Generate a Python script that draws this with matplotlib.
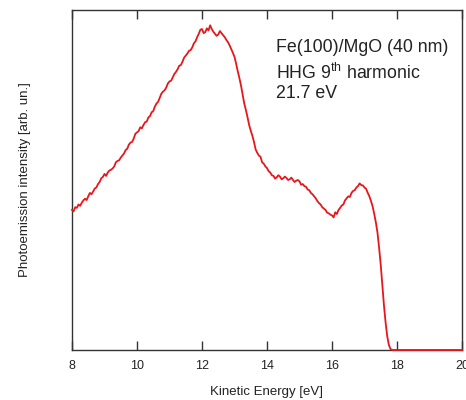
import matplotlib
matplotlib.use("Agg")
import matplotlib.pyplot as plt

# ================= Data =================
energy = [8.00, 8.05, 8.10, 8.15, 8.20, 8.25, 8.30, 8.35, 8.40, 8.45,
          8.50, 8.55, 8.60, 8.65, 8.70, 8.75, 8.80, 8.85, 8.90, 8.95,
          9.00, 9.05, 9.10, 9.15, 9.20, 9.25, 9.30, 9.35, 9.40, 9.45,
          9.50, 9.55, 9.60, 9.65, 9.70, 9.75, 9.80, 9.85, 9.90, 9.95,
          10.00, 10.05, 10.10, 10.15, 10.20, 10.25, 10.30, 10.35, 10.40, 10.45,
          10.50, 10.55, 10.60, 10.65, 10.70, 10.75, 10.80, 10.85, 10.90, 10.95,
          11.00, 11.05, 11.10, 11.15, 11.20, 11.25, 11.30, 11.35, 11.40, 11.45,
          11.50, 11.55, 11.60, 11.65, 11.70, 11.75, 11.80, 11.85, 11.90, 11.95,
          12.00, 12.05, 12.10, 12.15, 12.20, 12.25, 12.30, 12.35, 12.40, 12.45,
          12.50, 12.55, 12.60, 12.65, 12.70, 12.75, 12.80, 12.85, 12.90, 12.95,
          13.00, 13.05, 13.10, 13.15, 13.20, 13.25, 13.30, 13.35, 13.40, 13.45,
          13.50, 13.55, 13.60, 13.65, 13.70, 13.75, 13.80, 13.85, 13.90, 13.95,
          14.00, 14.05, 14.10, 14.15, 14.20, 14.25, 14.30, 14.35, 14.40, 14.45,
          14.50, 14.55, 14.60, 14.65, 14.70, 14.75, 14.80, 14.85, 14.90, 14.95,
          15.00, 15.05, 15.10, 15.15, 15.20, 15.25, 15.30, 15.35, 15.40, 15.45,
          15.50, 15.55, 15.60, 15.65, 15.70, 15.75, 15.80, 15.85, 15.90, 15.95,
          16.00, 16.05, 16.10, 16.15, 16.20, 16.25, 16.30, 16.35, 16.40, 16.45,
          16.50, 16.55, 16.60, 16.65, 16.70, 16.75, 16.80, 16.85, 16.90, 16.95,
          17.00, 17.05, 17.10, 17.15, 17.20, 17.25, 17.30, 17.35, 17.40, 17.45,
          17.50, 17.55, 17.60, 17.65, 17.70, 17.75, 17.80, 17.85,
          18.0, 18.5, 19.0, 19.5, 20.0]
intensity = [0.412, 0.408, 0.420, 0.418, 0.428, 0.424, 0.433, 0.440, 0.445, 0.441,
             0.452, 0.462, 0.458, 0.466, 0.475, 0.478, 0.488, 0.494, 0.505, 0.509,
             0.518, 0.512, 0.522, 0.528, 0.530, 0.534, 0.540, 0.552, 0.556, 0.558,
             0.566, 0.572, 0.578, 0.588, 0.592, 0.604, 0.610, 0.612, 0.622, 0.636,
             0.640, 0.644, 0.655, 0.652, 0.662, 0.670, 0.672, 0.684, 0.688, 0.699,
             0.703, 0.716, 0.725, 0.730, 0.742, 0.754, 0.760, 0.764, 0.772, 0.784,
             0.790, 0.792, 0.802, 0.812, 0.818, 0.826, 0.836, 0.838, 0.848, 0.860,
             0.866, 0.872, 0.880, 0.882, 0.890, 0.902, 0.908, 0.920, 0.930, 0.942,
             0.944, 0.932, 0.935, 0.946, 0.940, 0.955, 0.944, 0.936, 0.930, 0.924,
             0.928, 0.938, 0.932, 0.926, 0.920, 0.912, 0.905, 0.896, 0.885, 0.874,
             0.862, 0.842, 0.820, 0.800, 0.778, 0.752, 0.725, 0.706, 0.685, 0.662,
             0.645, 0.630, 0.612, 0.590, 0.580, 0.572, 0.568, 0.552, 0.548, 0.540,
             0.535, 0.526, 0.522, 0.514, 0.512, 0.504, 0.508, 0.514, 0.510, 0.502,
             0.505, 0.510, 0.506, 0.500, 0.502, 0.507, 0.500, 0.494, 0.498, 0.500,
             0.496, 0.486, 0.488, 0.482, 0.480, 0.472, 0.470, 0.462, 0.458, 0.452,
             0.446, 0.438, 0.432, 0.428, 0.420, 0.416, 0.412, 0.404, 0.402, 0.398,
             0.396, 0.390, 0.405, 0.400, 0.412, 0.418, 0.425, 0.428, 0.440, 0.446,
             0.452, 0.450, 0.462, 0.468, 0.470, 0.478, 0.482, 0.490, 0.485, 0.484,
             0.478, 0.474, 0.462, 0.452, 0.438, 0.422, 0.400, 0.375, 0.345, 0.300,
             0.250, 0.190, 0.130, 0.080, 0.040, 0.015, 0.003, 0.0,
             0.0, 0.0, 0.0, 0.0, 0.0]

x_ticks = [8, 10, 12, 14, 16, 18, 20]
note_lines = ["Fe(100)/MgO (40 nm)",
              "HHG 9$^{\\mathregular{th}}$ harmonic",
              "21.7 eV"]

# ================= Plot =================
plt.rcParams['font.family'] = ['Liberation Sans', 'DejaVu Sans']

W, H = 466, 400
fig = plt.figure(figsize=(W / 100, H / 100), dpi=100)
ax = fig.add_axes([72 / W, 50 / H, 390 / W, 340 / H])

ax.plot(energy, intensity, color="#e8161b", lw=1.3, clip_on=False, zorder=5)

ax.set_xlim(8, 20)
ax.set_ylim(0, 1)
ax.set_xticks(x_ticks)
ax.set_yticks([])
ax.tick_params(axis="x", direction="in", top=True, length=6.5, width=1,
               color="#333333", labelsize=9, pad=7, labelcolor="#222222")

for s in ax.spines.values():
    s.set_color("#333333")
    s.set_linewidth(1.0)

fig.text(267 / W, 1 - 392 / H, "Kinetic Energy [eV]", fontsize=9.5,
         color="#222222", ha="center", va="center")
fig.text(25 / W, 1 - 180 / H, "Photoemission intensity [arb. un.]", fontsize=9.5,
         color="#222222", ha="center", va="center", rotation=90)

for txt, ypx in zip(note_lines, [47, 73, 94]):
    fig.text(276 / W, 1 - ypx / H, txt, fontsize=12.8,
             va="center", ha="left", color="#222222")

fig.savefig("out.png", dpi=100)
